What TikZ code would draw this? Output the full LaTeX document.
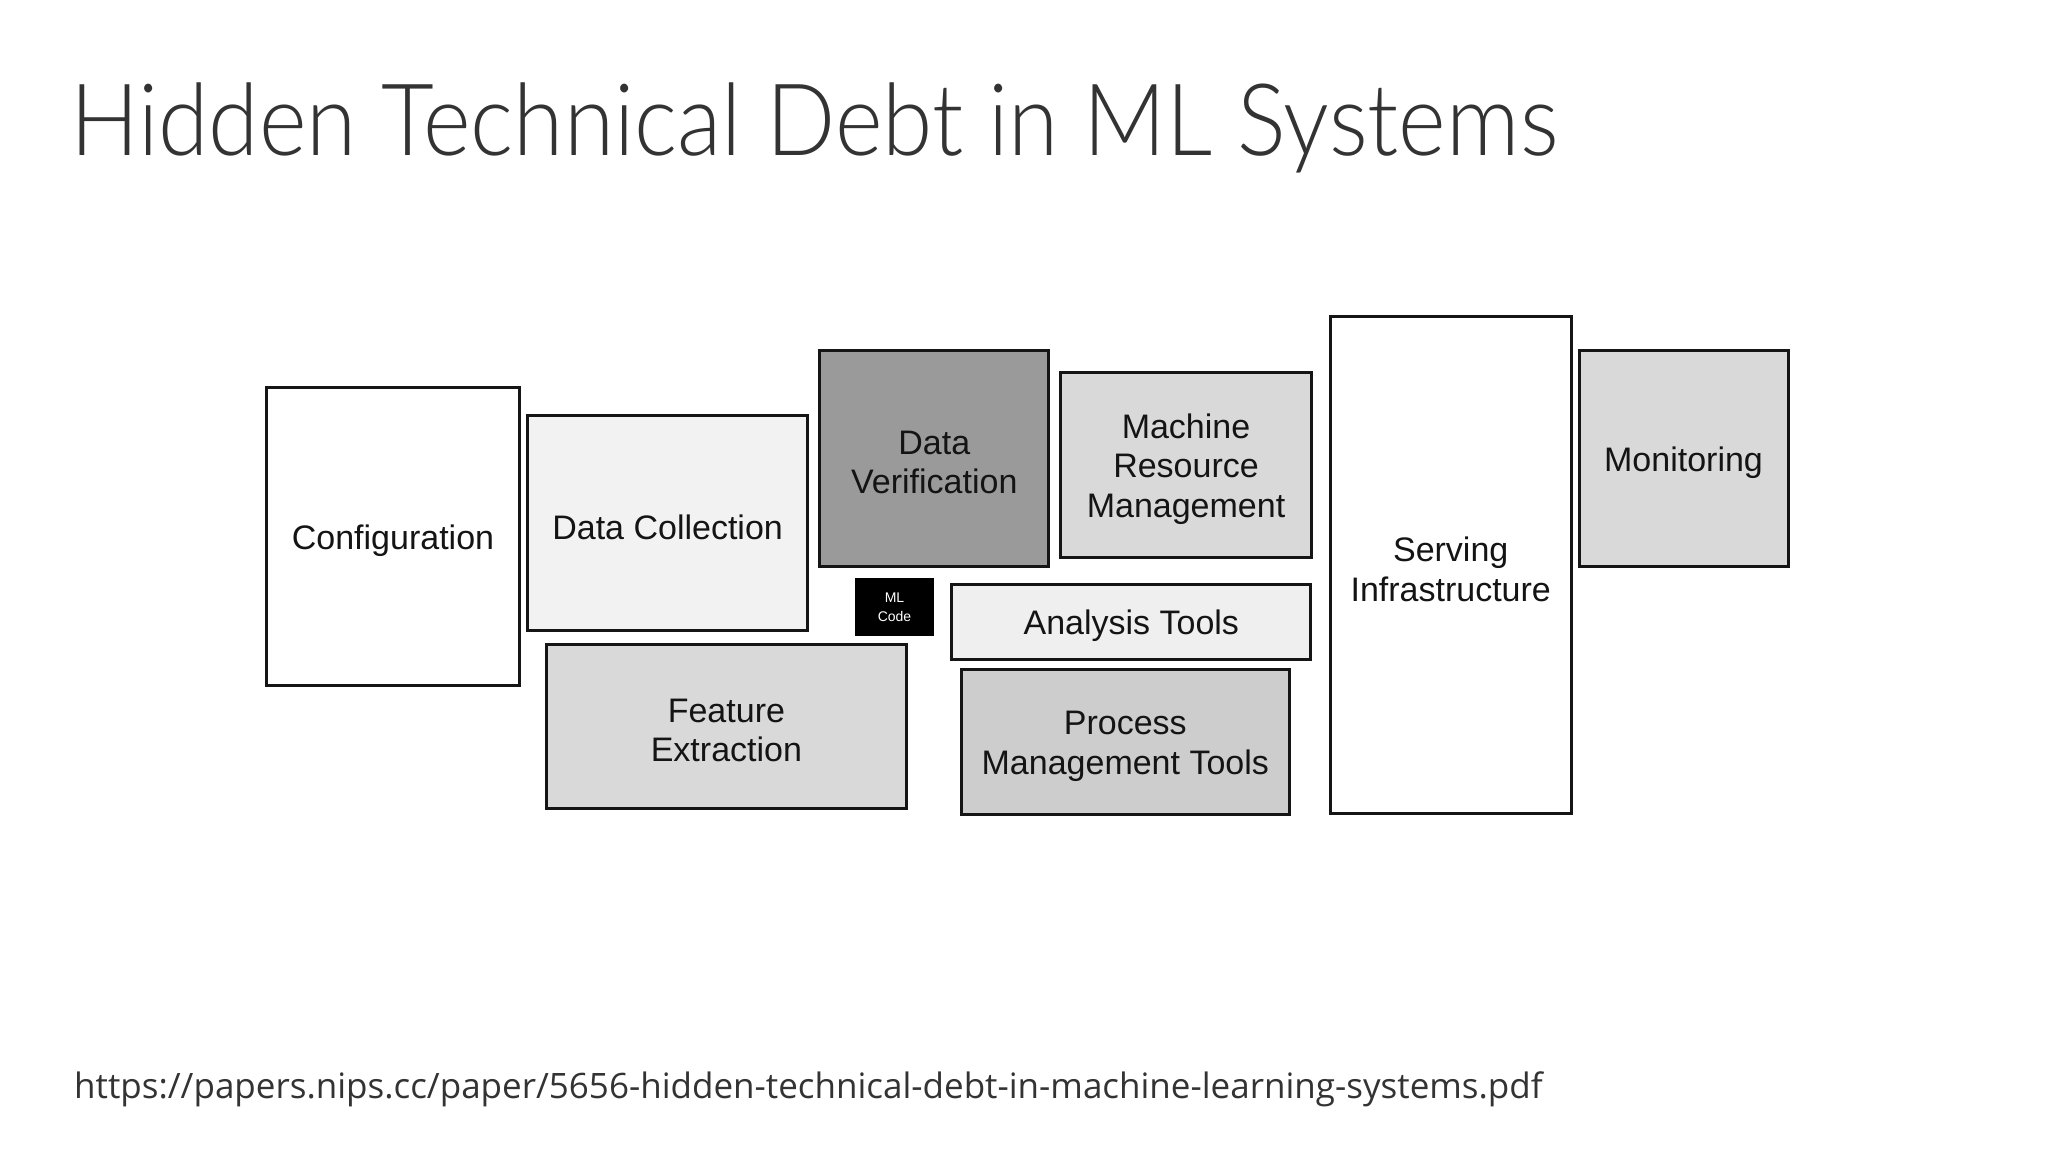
\documentclass[tikz,border=0pt]{standalone}
\usepackage{fontspec}
\setmainfont{Liberation Sans}
\newfontfamily\titlefont{Lato Light}
\newfontfamily\urlfont{Open Sans}
\definecolor{slidetext}{HTML}{333333}
\definecolor{boxline}{HTML}{151515}
\definecolor{boxtext}{HTML}{141414}
\definecolor{fillA}{HTML}{F2F2F2}
\definecolor{fillB}{HTML}{9A9A9A}
\definecolor{fillC}{HTML}{D9D9D9}
\definecolor{fillD}{HTML}{EFEFEF}
\definecolor{fillE}{HTML}{CDCDCD}
\begin{document}
\begin{tikzpicture}[x=1pt,y=-1pt,
  debtbox/.style={draw=boxline, line width=3pt, inner sep=0pt},
  boxlabel/.style={inner sep=0pt, align=center, yshift=-4pt,
    text=boxtext, font=\fontsize{34}{39.5}\selectfont},
  mlbox/.style={draw=black, fill=black, line width=2pt, inner sep=0pt, align=center,
    text=white, font=\fontsize{14}{19}\selectfont}]
\useasboundingbox[fill=white] (0,0) rectangle (2048,1152);
\node[anchor=base west, inner sep=0pt, text=slidetext,
  font=\titlefont\fontsize{100}{110}\selectfont] (title) at (70,155)
  {\scalebox{0.912}[1]{Hidden Technical Debt in ML Systems}};
\node[debtbox, fill=white, minimum width=252.7pt, minimum height=298.5pt,
  label={[boxlabel]center:Configuration}] (cfg) at (393.0,536.3) {};
\node[debtbox, fill=fillA, minimum width=279.6pt, minimum height=214.9pt,
  label={[boxlabel]center:Data Collection}] (dc) at (667.6,523.4) {};
\node[debtbox, fill=fillB, minimum width=228.9pt, minimum height=215.9pt,
  label={[boxlabel]center:Data\\Verification}] (dv) at (934.3,458.7) {};
\node[debtbox, fill=fillC, minimum width=250.7pt, minimum height=185.1pt,
  label={[boxlabel]center:Machine\\Resource\\Management}] (mrm) at (1186,464.7) {};
\node[debtbox, fill=white, minimum width=240.8pt, minimum height=497.5pt,
  label={[boxlabel]center:Serving\\Infrastructure}] (srv) at (1450.7,565.2) {};
\node[debtbox, fill=fillC, minimum width=209pt, minimum height=215.9pt,
  label={[boxlabel]center:Monitoring}] (mon) at (1683.5,458.7) {};
\node[mlbox, minimum width=77.6pt, minimum height=55.7pt] (ml) at (894.5,607) {ML\\Code};
\node[debtbox, fill=fillD, minimum width=359.2pt, minimum height=75.6pt,
  label={[boxlabel]center:Analysis Tools}] (at) at (1131.3,621.9) {};
\node[debtbox, fill=fillC, minimum width=360.2pt, minimum height=163.2pt,
  label={[boxlabel]center:Feature\\Extraction}] (fe) at (726.4,726.4) {};
\node[debtbox, fill=fillE, minimum width=327.4pt, minimum height=145.3pt,
  label={[boxlabel]center:Process\\Management Tools}] (pmt) at (1125.3,742.3) {};
\node[anchor=base west, inner sep=0pt, text=slidetext,
  font=\urlfont\fontsize{35}{40}\selectfont] (url) at (74,1098)
  {https://papers.nips.cc/paper/5656-hidden-technical-debt-in-machine-learning-systems.pdf};
\end{tikzpicture}
\end{document}
